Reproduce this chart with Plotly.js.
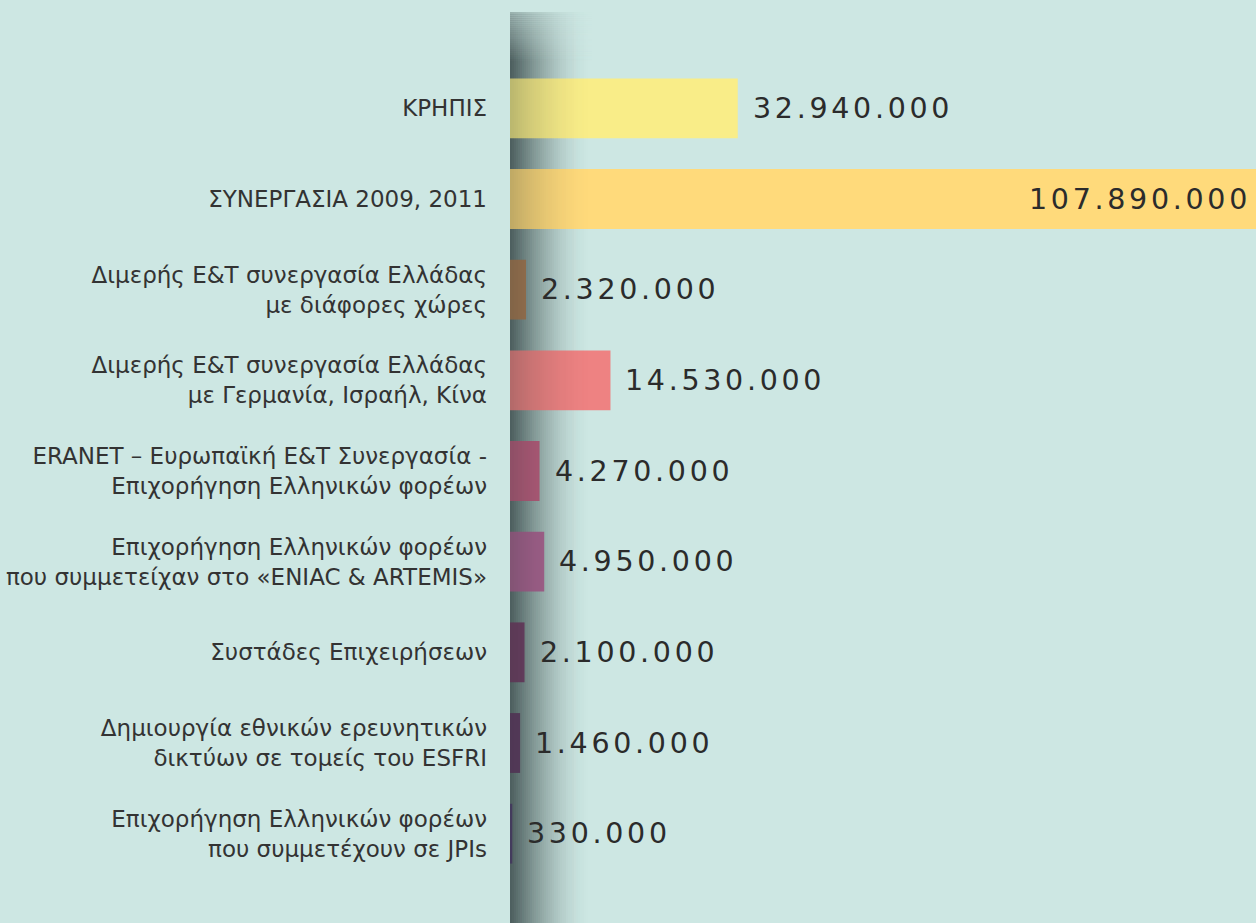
<!DOCTYPE html>
<html>
<head>
<meta charset="utf-8">
<script src="https://cdn.plot.ly/plotly-3.0.1.min.js"></script>
<style>
html,body{margin:0;padding:0;background:#cde7e3;}
#chart{width:1256px;height:923px;}
.annotation-text{letter-spacing:3.7px;}
</style>
</head>
<body>
<div id="chart"></div>
<script>
const categories = [
  "ΚΡΗΠΙΣ",
  "ΣΥΝΕΡΓΑΣΙΑ 2009, 2011",
  "Διμερής Ε&Τ συνεργασία Ελλάδας<br>με διάφορες χώρες",
  "Διμερής Ε&Τ συνεργασία Ελλάδας<br>με Γερμανία, Ισραήλ, Κίνα",
  "ERANET – Ευρωπαϊκή Ε&Τ Συνεργασία -<br>Επιχορήγηση Ελληνικών φορέων",
  "Επιχορήγηση Ελληνικών φορέων<br>που συμμετείχαν στο «ENIAC & ARTEMIS»",
  "Συστάδες Επιχειρήσεων",
  "Δημιουργία εθνικών ερευνητικών<br>δικτύων σε τομείς του ESFRI",
  "Επιχορήγηση Ελληνικών φορέων<br>που συμμετέχουν σε JPIs"
];
const values = [32940000, 107890000, 2320000, 14530000, 4270000, 4950000, 2100000, 1460000, 330000];
const barColors = ["#f9ed88", "#ffda7b", "#a97a52", "#ee8282", "#bb5d7d", "#ab6391", "#733f66", "#633c64", "#524070"];

function fmt(v){
  return String(v).replace(/\B(?=(\d{3})+(?!\d))/g, ".");
}
const maxV = Math.max(...values);

const trace = {
  type: "bar",
  orientation: "h",
  x: values,
  y: categories,
  marker: {color: barColors, line: {width: 0}},
  width: 0.66,
  hoverinfo: "none"
};

const annotations = values.map((v, i) => {
  const inside = v === maxV;
  return {
    x: v, y: categories[i], xref: "x", yref: "y",
    text: fmt(v), showarrow: false,
    xanchor: inside ? "right" : "left",
    xshift: inside ? -3 : 13,
    yshift: 0,
    font: {family: "DejaVu Sans, sans-serif", size: 28.5, color: "#2b2b2b"}
  };
});

// shadow gradient at the axis
const shapes = [];
const steps = 40, totalPx = 80, domainPx = 746;
for (let s = 0; s < steps; s++) {
  const t = s / steps;
  const x0 = (s * totalPx / steps) / domainPx, x1 = ((s + 1) * totalPx / steps) / domainPx;
  shapes.push({
    type: "rect", xref: "paper", yref: "paper", layer: "below",
    x0: x0, x1: x1, y0: -0.06, y1: 1.062,
    fillcolor: "#1e2d2e", opacity: 0.62 * Math.pow(1 - t, 2),
    line: {width: 0}
  });
  shapes.push({
    type: "rect", xref: "paper", yref: "paper", layer: "above",
    x0: x0, x1: x1, y0: -0.06, y1: 1.062,
    fillcolor: "#1e2d2e", opacity: 0.28 * Math.pow(1 - t, 1.6),
    line: {width: 0}
  });
}
// top fade
const fadeSteps = 24;
for (let s = 0; s < fadeSteps; s++) {
  shapes.push({
    type: "rect", xref: "paper", yref: "paper", layer: "above",
    x0: 0, x1: (totalPx + 2) / domainPx,
    y0: 1.062 - (s + 1) * 0.0025, y1: 1.062 - s * 0.0025,
    fillcolor: "#cde7e3", opacity: 0.6 * (1 - s / fadeSteps),
    line: {width: 0}
  });
}

const layout = {
  width: 1256, height: 923,
  paper_bgcolor: "#cde7e3",
  plot_bgcolor: "#cde7e3",
  margin: {l: 510, r: 0, t: 63, b: 44, pad: 0},
  showlegend: false,
  xaxis: {
    range: [0, maxV], showgrid: false, zeroline: false,
    showticklabels: false, ticks: "", showline: false, fixedrange: true
  },
  yaxis: {
    type: "category", range: [8.5, -0.5], showgrid: false, zeroline: false,
    showline: false, ticks: "", ticklabelstandoff: 22,
    tickfont: {family: "DejaVu Sans, sans-serif", size: 23, color: "#333333"},
    fixedrange: true
  },
  annotations: annotations,
  shapes: shapes,
  bargap: 0.34
};

Plotly.newPlot("chart", [trace], layout, {displayModeBar: false, staticPlot: true});
</script>
</body>
</html>
